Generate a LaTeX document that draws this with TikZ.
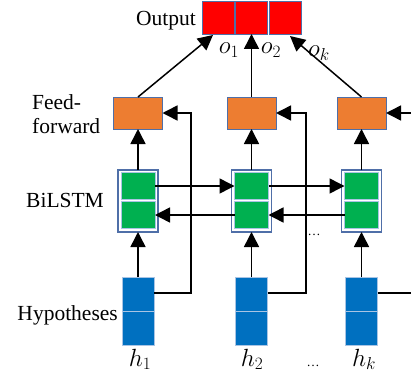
\documentclass[tikz,border=0pt]{standalone}
\usepackage{fontspec}
\setmainfont{Liberation Serif}
\usetikzlibrary{arrows.meta,calc}
\definecolor{cred}{HTML}{FF0000}
\definecolor{corange}{HTML}{ED7D31}
\definecolor{cgreen}{HTML}{00B050}
\definecolor{cblue}{HTML}{0070C0}
\definecolor{cline}{HTML}{4F6FA8}
\definecolor{clight}{HTML}{A9C4E4}
\tikzset{
  box/.style={rectangle, inner sep=0pt, outer sep=0pt, line width=0.8pt},
  redbox/.style={box, fill=cred, draw=cline, minimum width=32pt, minimum height=33pt},
  orbox/.style={box, fill=corange, draw=cline, minimum width=49pt, minimum height=32pt},
  frame/.style={box, fill=white, draw=cline, line width=1.2pt, minimum width=40pt, minimum height=62pt},
  grbox/.style={box, fill=cgreen, draw=clight, line width=0.6pt, minimum width=34pt},
  blbox/.style={box, fill=cblue, draw=clight, line width=0.6pt, minimum width=32pt, minimum height=34pt},
  arr/.style={-{Triangle[length=15pt,width=15pt]}, line width=1.5pt, black},
  ln/.style={line width=1.5pt, black},
  lbl/.style={inner sep=0pt, font=\fontsize{21.5}{24}\selectfont},
  mlbl/.style={inner sep=0pt, font=\fontsize{25}{28}\selectfont},
  dots/.style={inner sep=0pt, font=\fontsize{13}{14}\selectfont},
}
\begin{document}
\begin{tikzpicture}[x=1pt, y=-1pt]
\useasboundingbox (0,0) rectangle (411,377);
% output boxes
\node[redbox] (r1) at (218,17.5) {};
\node[redbox] (r2) at (251.5,17.5) {};
\node[redbox] (r3) at (285,17.5) {};
% columns
\foreach \i/\cx in {1/138, 2/251.5, 3/361.5} {
  \node[orbox] (or\i) at (\cx,113) {};
  \node[frame] (g\i) at (\cx,201) {};
  \node[grbox, minimum height=27pt] (gt\i) at (\cx,186) {};
  \node[grbox, minimum height=27pt] (gb\i) at (\cx,215) {};
  \node[blbox] (bt\i) at (\cx,294) {};
  \node[blbox] (bb\i) at (\cx,328) {};
}
% labels
\node[lbl, anchor=base east] (tout) at (196,26) {Output};
\node[lbl, anchor=base west] (tff1) at (32,109) {Feed-};
\node[lbl, anchor=base west] (tff2) at (32,133) {forward};
\node[lbl, anchor=base west] (tbi) at (26,207) {BiLSTM};
\node[lbl, anchor=base east] (thy) at (118,320) {Hypotheses};
\node[mlbl, anchor=base] (h1) at (140,366) {$h_1$};
\node[mlbl, anchor=base] (h2) at (252,366) {$h_2$};
\node[mlbl, anchor=base] (hk) at (364,366) {$h_k$};
\node[dots, anchor=base] (d1) at (313,366) {\ldots};
\node[dots, anchor=base] (d2) at (314,235) {\ldots};
\node[mlbl, anchor=base] (o1) at (229,54) {$o_1$};
\node[mlbl, anchor=base] (o2) at (271,54) {$o_2$};
\node[mlbl, anchor=base] (ok) at (319,57) {$o_k$};
% output arrows
\draw[arr] (or1.north) -- ($(r1.south)+(-5,1)$);
\draw[arr] (or2.north) -- (r2.south);
\draw[arr] (or3.north) -- ($(r3.south)+(5,2)$);
% vertical arrows
\foreach \i in {1,2,3} {
  \draw[arr] (bt\i.north) -- (g\i.south);
  \draw[arr] (g\i.north) -- (or\i.south);
}
% skip connections
\coordinate (s1) at (191,293);
\coordinate (s2) at (306,293);
\coordinate (s3) at (411,293);
\coordinate (e3) at (411,113);
\draw[arr] (bt1.east |- s1) -- (s1) |- (or1.east);
\draw[arr] (bt2.east |- s2) -- (s2) |- (or2.east);
\draw[ln] (bt3.east |- s3) -- (s3);
\draw[arr] (e3) -- (or3.east);
% BiLSTM recurrent arrows
\draw[arr] (gt1.east) -- (gt2.west);
\draw[arr] (gb2.west) -- (gb1.east);
\draw[arr] (gt2.east) -- (gt3.west);
\draw[arr] (gb3.west) -- (gb2.east);
\end{tikzpicture}
\end{document}
